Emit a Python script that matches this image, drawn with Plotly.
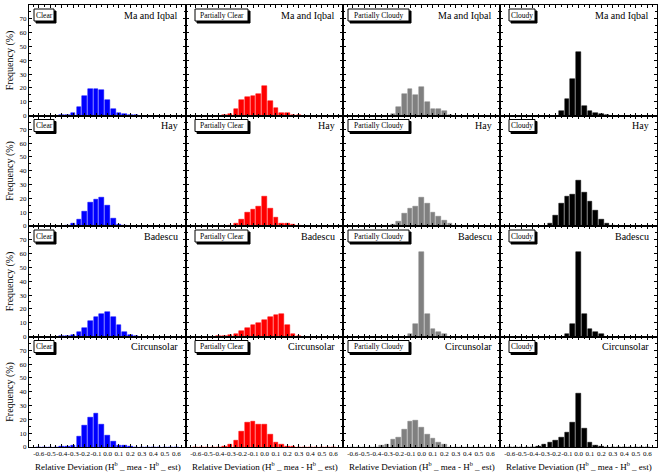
import plotly.graph_objects as go
from plotly.subplots import make_subplots

bins = [round(-0.6 + 0.05 * i, 2) for i in range(25)]
tick_vals = [round(-0.6 + 0.1 * i, 1) for i in range(13)]
tick_text = ["%.1f" % v for v in tick_vals]
y_ticks = [0, 10, 20, 30, 40, 50, 60, 70]

sky_types = ["Clear", "Partially Clear", "Partially Cloudy", "Cloudy"]
models = ["Ma and Iqbal", "Hay", "Badescu", "Circunsolar"]
colors = ["#0000ff", "#ff0000", "#808080", "#000000"]

ma_clear   = [0,0,0,0,0.2,0.7,1.7,6,14,19.5,19.5,18.7,11.5,5,1.5,1.2,0.5,0.2,0,0,0,0,0,0,0]
ma_pclear  = [0,0,0,0,0,0.2,1,4.4,11.2,13.4,14.1,15.6,21.7,10.7,5.1,1.5,1.5,0.7,0.3,0,0,0,0,0,0]
ma_pcloudy = [0,0,0,0,0,0,0,1,6,15.4,19.3,14.6,20.5,9.5,5,4.9,3.2,0.5,0,0,0,0,0,0,0]
ma_cloudy  = [0,0,0,0,0,0,0,0,0,3.4,12.2,26.6,46.3,7,2.9,2,1,0.3,0,0,0,0,0,0,0]

hay_clear   = [0,0,0,0,0,0.7,1.5,4.9,10.7,16.8,19.3,20.5,14.9,5.6,1.2,0.5,0,0,0,0,0,0,0,0,0]
hay_pclear  = [0,0,0,0,0,0,0.5,1.5,5,10,12,14,21,12.5,6,2,1.5,1,0.5,0,0,0,0,0,0]
hay_pcloudy = [0,0,0,0,0,0,0,1,3.5,9,12.5,14,20.5,16,10,7,4,1.5,0.5,0,0,0,0,0,0]
hay_cloudy  = [0,0,0,0,0,0,0,2,7.5,16,21,23,33,24,18,11,5,1.5,0.5,0,0,0,0,0,0]

bad_clear   = [0,0,0,0,0.3,0.3,1,3.6,6,11,14,16.4,17.6,14,8.4,3.1,1.2,0.5,0,0,0,0,0,0,0]
bad_pclear  = [0,0,0,0,0.3,0.5,1,2,4,6,8,10,12,14,15.5,16,8,2,0.5,0,0,0,0,0,0]
bad_pcloudy = [0,0,0,0,0,0,0,0,0,0,1.5,9.2,61,16.4,5.5,3.4,1.7,0,0,0,0,0,0,0,0]
bad_cloudy  = [0,0,0,0,0,0,0,0,0,0,1.5,9.2,61,16.4,5.3,3.4,1.7,0,0,0,0,0,0,0,0]

cir_clear   = [0,0,0,0,0.3,0.7,1.2,7.7,15.9,21.2,24.3,16.6,8.2,3.8,1.4,1,0.3,0,0,0,0,0,0,0,0]
cir_pclear  = [0,0,0,0,0,0.3,2,5,11.5,17.5,18.7,16.3,16.3,9,3.6,2,0.5,0.3,0,0,0,0,0,0,0]
cir_pcloudy = [0,0,0,0,0,1.2,1.9,5.5,7.2,13,18.3,19.2,14.4,9.1,6.3,3.6,1.7,0,0,0,0,0,0,0,0]
cir_cloudy  = [0,0,0,0,0,0.7,1.7,3.6,5,6.7,10.6,17.8,38.5,13.5,3.4,1.2,0.5,0,0,0,0,0,0,0,0]

grid = [
    [ma_clear, ma_pclear, ma_pcloudy, ma_cloudy],
    [hay_clear, hay_pclear, hay_pcloudy, hay_cloudy],
    [bad_clear, bad_pclear, bad_pcloudy, bad_cloudy],
    [cir_clear, cir_pclear, cir_pcloudy, cir_cloudy],
]

FONT = "Liberation Serif, Times New Roman, serif"

W, H = 663, 472
ML, MR, MT, MB = 29, 6, 5, 25
PW = (W - ML - MR) / 4.0
PH = (H - MT - MB) / 4.0

fig = make_subplots(rows=4, cols=4, horizontal_spacing=0, vertical_spacing=0)

box_offsets = [5, 9, 5, 9]
box_widths = [20, 53, 61, 26]
BOX_H = 12
annotations = []
shapes = []
for r in range(4):
    for c in range(4):
        vals = grid[r][c]
        fig.add_trace(go.Bar(x=bins, y=vals, width=0.04,
                             marker=dict(color=colors[c], line=dict(color=colors[c], width=0.5)),
                             showlegend=False, hoverinfo="x+y"),
                      row=r + 1, col=c + 1)
        idx = r * 4 + c + 1
        xa = "x" if idx == 1 else "x%d" % idx
        ya = "y" if idx == 1 else "y%d" % idx
        fig.update_xaxes(range=[-0.685, 0.685], tickvals=tick_vals, ticktext=tick_text,
                         showticklabels=(r == 3), tickangle=0, ticks="inside", ticklen=3,
                         tickwidth=0.8, tickcolor="black",
                         minor=dict(ticks="inside", ticklen=2,
                                    tickvals=[round(-0.65 + 0.1 * i, 2) for i in range(14)],
                                    tickcolor="black"),
                         showline=True, linecolor="black", linewidth=1, mirror="allticks",
                         showgrid=False, zeroline=False,
                         tickfont=dict(family=FONT, size=7, color="black"),
                         row=r + 1, col=c + 1)
        fig.update_yaxes(range=[0, 80], tickvals=y_ticks, showticklabels=(c == 0),
                         ticks="inside", ticklen=3, tickwidth=0.8, tickcolor="black",
                         minor=dict(ticks="inside", ticklen=2,
                                    tickvals=[5, 15, 25, 35, 45, 55, 65, 75], tickcolor="black"),
                         showline=True, linecolor="black", linewidth=1, mirror="allticks",
                         showgrid=False, zeroline=False,
                         tickfont=dict(family=FONT, size=7, color="black"),
                         row=r + 1, col=c + 1)
        # label box with drop shadow (shapes in axis-domain fractions)
        x0 = box_offsets[c] / PW
        x1 = (box_offsets[c] + box_widths[c]) / PW
        y1 = 1 - 4 / PH
        y0 = 1 - (4 + BOX_H) / PH
        dx, dy = 2 / PW, 2 / PH
        shapes.append(dict(type="rect", xref=xa + " domain", yref=ya + " domain",
                           x0=x0 + dx, x1=x1 + dx, y0=y0 - dy, y1=y1 - dy,
                           fillcolor="black", line=dict(color="black", width=1), layer="above"))
        shapes.append(dict(type="rect", xref=xa + " domain", yref=ya + " domain",
                           x0=x0, x1=x1, y0=y0, y1=y1,
                           fillcolor="white", line=dict(color="black", width=1), layer="above"))
        annotations.append(dict(
            text=sky_types[c], xref=xa + " domain", yref=ya + " domain",
            x=(x0 + x1) / 2, y=(y0 + y1) / 2, xanchor="center", yanchor="middle",
            showarrow=False, font=dict(family=FONT, size=7.5, color="black")))
        annotations.append(dict(
            text=models[r], xref=xa + " domain", yref=ya + " domain",
            x=1, y=1, xanchor="right", yanchor="middle", xshift=-6, yshift=-10,
            showarrow=False, font=dict(family=FONT, size=10, color="black")))
    ya = "y" if r == 0 else "y%d" % (r * 4 + 1)
    annotations.append(dict(
        text="Frequency (%)", xref="paper", yref=ya + " domain", x=0, y=0.5,
        xanchor="center", yanchor="middle", xshift=-19, textangle=-90,
        showarrow=False, font=dict(family=FONT, size=10, color="black")))

for c in range(4):
    idx = 12 + c + 1
    annotations.append(dict(
        text="Relative Deviation (H<sup>b</sup> _ mea - H<sup>b</sup> _ est)",
        xref="x%d domain" % idx, yref="paper", x=0.5, y=0,
        xanchor="center", yanchor="middle", yshift=-19,
        showarrow=False, font=dict(family=FONT, size=9, color="black")))

fig.update_layout(
    width=W, height=H,
    margin=dict(l=ML, r=MR, t=MT, b=MB),
    plot_bgcolor="white", paper_bgcolor="white",
    bargap=0, annotations=annotations, shapes=shapes,
    font=dict(family=FONT, color="black"),
)

fig.write_html("out.html")
